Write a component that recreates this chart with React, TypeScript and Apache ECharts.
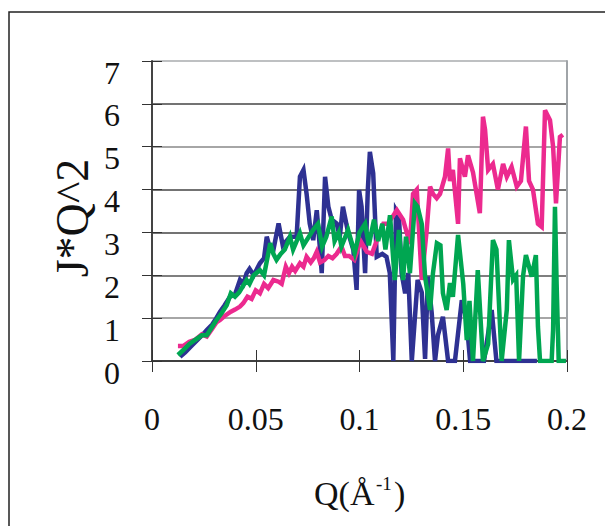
import React, { useEffect, useRef } from "react";
import * as echarts from "echarts";

const xTicks = [0, 0.05, 0.1, 0.15, 0.2];
const yTicks = [0, 1, 2, 3, 4, 5, 6, 7];

const blueQ = [0.0135,0.016,0.019,0.022,0.0245,0.0264,0.029,0.031,0.0328,0.035,0.0376,0.040,0.0424,0.044,0.0456,0.047,0.049,0.052,0.054,0.0553,0.057,0.0585,0.061,0.063,0.0665,0.0697,0.0713,0.073,0.0745,0.076,0.0777,0.0794,0.081,0.0818,0.0834,0.085,0.0866,0.089,0.0905,0.092,0.0945,0.097,0.0986,0.0998,0.101,0.1027,0.104,0.105,0.1066,0.1083,0.111,0.113,0.1146,0.1163,0.1176,0.119,0.1203,0.122,0.1235,0.1252,0.128,0.130,0.1316,0.133,0.1348,0.1364,0.1378,0.1402,0.1427,0.146,0.1493,0.1515,0.1533,0.157,0.160,0.1637,0.166,0.170,0.175,0.180,0.1855];
const blueJ = [0.10,0.2,0.35,0.5,0.62,0.72,0.85,1.0,1.15,1.3,1.5,1.55,1.89,1.8,2.05,2.15,2.0,2.28,2.4,2.9,2.6,2.59,3.21,2.7,2.9,2.9,4.3,4.46,3.9,3.21,2.82,3.52,2.59,2.05,4.3,3.6,3.3,3.21,2.9,3.6,3.0,2.6,1.66,3.99,3.6,2.05,3.99,4.88,4.38,2.43,2.5,2.43,2.05,0,3.52,3.4,2.05,1.58,2.05,0,1.89,1.6,0.05,1.97,1.12,0,0.6,1.03,0,0,1.42,1.0,0,0,0,1.19,0,0,0,0,0];

const pinkQ = [0.0125,0.015,0.018,0.021,0.024,0.0264,0.029,0.031,0.0328,0.035,0.038,0.040,0.0424,0.044,0.046,0.048,0.050,0.052,0.054,0.056,0.0585,0.061,0.0625,0.0645,0.066,0.0675,0.069,0.0713,0.073,0.0745,0.0765,0.078,0.0794,0.081,0.083,0.085,0.087,0.089,0.0913,0.093,0.095,0.0975,0.1005,0.1035,0.106,0.109,0.1115,0.1137,0.118,0.121,0.1243,0.1258,0.1276,0.130,0.1324,0.134,0.1354,0.1372,0.1388,0.1412,0.1427,0.1436,0.145,0.1475,0.1484,0.1508,0.1523,0.1547,0.158,0.1595,0.1605,0.162,0.1643,0.1667,0.1692,0.171,0.1733,0.1758,0.1778,0.1802,0.1817,0.1836,0.186,0.1878,0.1894,0.1918,0.1933,0.1947,0.1966,0.198];
const pinkJ = [0.35,0.35,0.45,0.5,0.62,0.57,0.75,0.9,0.96,1.05,1.15,1.2,1.27,1.35,1.5,1.45,1.65,1.58,1.8,1.7,1.89,1.85,1.8,2.2,2.05,2.2,2.1,2.28,2.2,2.43,2.3,2.4,2.55,2.3,2.35,2.45,2.4,2.5,2.67,2.45,2.45,2.36,2.8,2.55,2.5,2.9,3.2,3.2,3.52,3.3,2.73,3.9,4.0,1.89,3.06,4.07,3.9,3.8,3.9,4.3,4.96,4.2,4.46,3.2,4.73,4.3,4.8,4.4,3.45,5.7,5.4,4.46,4.6,4.0,4.6,4.3,4.53,4.07,4.2,5.47,4.2,4.0,3.2,3.13,5.85,5.62,5.0,3.68,5.23,5.28];

const greenQ = [0.0125,0.015,0.018,0.021,0.024,0.0264,0.029,0.031,0.0336,0.036,0.038,0.040,0.042,0.0456,0.047,0.049,0.052,0.054,0.057,0.0585,0.060,0.062,0.064,0.0665,0.068,0.0713,0.073,0.0777,0.080,0.082,0.084,0.0866,0.088,0.090,0.0913,0.0945,0.0977,0.100,0.1027,0.1045,0.107,0.109,0.111,0.1125,0.1147,0.117,0.119,0.121,0.1224,0.1243,0.1267,0.128,0.130,0.1316,0.134,0.1354,0.1373,0.139,0.1402,0.142,0.1436,0.145,0.1475,0.150,0.1517,0.153,0.1547,0.157,0.1595,0.162,0.1643,0.166,0.1685,0.171,0.172,0.174,0.1755,0.1769,0.1788,0.1802,0.183,0.185,0.186,0.187,0.1926,0.1933,0.1942,0.195,0.196,0.1995];
const greenJ = [0.14,0.25,0.4,0.5,0.6,0.6,0.8,0.95,1.12,1.3,1.58,1.5,1.6,1.89,1.8,2.0,2.12,2.0,2.75,2.5,2.36,2.5,2.6,2.9,2.6,2.98,2.7,3.06,3.2,2.67,2.9,3.37,2.8,3.0,2.67,3.06,2.52,3.0,3.2,2.7,3.3,2.8,3.2,2.6,3.4,1.89,3.06,1.89,2.9,2.05,3.68,3.6,3.2,1.97,1.19,2.05,2.75,2.7,1.58,1.19,1.82,1.5,2.94,1.8,0.49,1.4,0,2.12,0,0.4,2.82,2.6,0,1.2,2.82,1.9,2.0,0,1.97,2.47,1.97,2.47,0.8,0,0,0.73,3.6,1.8,0,0];

const zip = (q: number[], j: number[]) => q.map((v, i) => [v, j[i]]);

const FONT = "'Liberation Serif', 'Times New Roman', serif";

export default function App() {
  const ref = useRef<HTMLDivElement>(null);
  useEffect(() => {
    if (!ref.current) return;
    const chart = echarts.init(ref.current, null, { renderer: "svg" });
    const xMin = xTicks[0], xMax = xTicks[xTicks.length - 1];
    const yMin = yTicks[0], yMax = yTicks[yTicks.length - 1];
    const xInt = xTicks[1] - xTicks[0];
    const yInt = yTicks[1] - yTicks[0];
    const lineBase = { type: "line", showSymbol: false, symbol: "none", silent: true, lineStyle: { width: 4.5, join: "miter" } };
    chart.setOption({
      animation: false,
      backgroundColor: "#ffffff",
      grid: { left: 152, top: 61, width: 415, height: 300, containLabel: false },
      xAxis: [
        {
          type: "value", min: xMin, max: xMax, interval: xInt,
          axisLine: { show: true, onZero: false, lineStyle: { color: "#333", width: 1.5 } },
          axisTick: { show: true, inside: false, length: 11, lineStyle: { color: "#333", width: 1 } },
          axisLabel: { show: true, margin: 42, fontFamily: FONT, fontSize: 32, color: "#111" },
          splitLine: { show: false },
        },
        {
          type: "value", min: xMin, max: xMax, interval: xInt, position: "bottom",
          axisLine: { show: false, onZero: false },
          axisTick: { show: true, inside: true, length: 11, lineStyle: { color: "#333", width: 1 } },
          axisLabel: { show: false },
          splitLine: { show: false },
        },
      ],
      yAxis: [
        {
          type: "value", min: yMin, max: yMax, interval: yInt,
          axisLine: { show: true, onZero: false, lineStyle: { color: "#444", width: 2 } },
          axisTick: { show: true, inside: false, length: 10, lineStyle: { color: "#333", width: 1 } },
          axisLabel: { show: true, margin: 32, fontFamily: FONT, fontSize: 32, color: "#111", verticalAlign: "top", lineHeight: 23 },
          splitLine: { show: true, lineStyle: { color: ["#333", "#888", "#555", "#444", "#444", "#888", "#444", "#a8abae"], width: 1.5 } },
        },
        {
          type: "value", min: yMin, max: yMax, interval: yInt, position: "left",
          axisLine: { show: false, onZero: false },
          axisTick: { show: true, inside: true, length: 10, lineStyle: { color: "#333", width: 1 } },
          axisLabel: { show: false },
          splitLine: { show: false },
        },
        {
          type: "value", min: yMin, max: yMax, interval: yInt, position: "right",
          axisLine: { show: true, onZero: false, lineStyle: { color: "#a0a4a8", width: 2 } },
          axisTick: { show: false },
          axisLabel: { show: false },
          splitLine: { show: false },
        },
      ],
      series: [
        { ...lineBase, name: "blue", data: zip(blueQ, blueJ), itemStyle: { color: "#2e3192" }, lineStyle: { ...lineBase.lineStyle, color: "#2e3192" }, z: 2 },
        { ...lineBase, name: "pink", data: zip(pinkQ, pinkJ), itemStyle: { color: "#ec2a8f" }, lineStyle: { ...lineBase.lineStyle, color: "#ec2a8f" }, z: 3 },
        { ...lineBase, name: "green", data: zip(greenQ, greenJ), itemStyle: { color: "#00a651" }, lineStyle: { ...lineBase.lineStyle, color: "#00a651" }, z: 4 },
      ],
      graphic: [
        { type: "rect", shape: { x: 9, y: 12, width: 800, height: 700 }, style: { fill: "none", stroke: "#222", lineWidth: 1.5 }, silent: true },
        { type: "text", x: 72, y: 218, rotation: Math.PI / 2, style: { text: "J*Q^2", font: `46px ${FONT}`, fill: "#111", align: "center", verticalAlign: "middle" } },
        { type: "text", x: 314, y: 493, style: { text: "Q(Å", font: `34px ${FONT}`, fill: "#111", align: "left", verticalAlign: "middle" } },
        { type: "text", x: 376, y: 483, style: { text: "-1", font: `19px ${FONT}`, fill: "#111", align: "left", verticalAlign: "middle" } },
        { type: "text", x: 394, y: 493, style: { text: ")", font: `34px ${FONT}`, fill: "#111", align: "left", verticalAlign: "middle" } },
      ],
    });
    return () => chart.dispose();
  }, []);
  return <div ref={ref} style={{ position: "fixed", left: 0, top: 0, width: 605, height: 526 }} />;
}
